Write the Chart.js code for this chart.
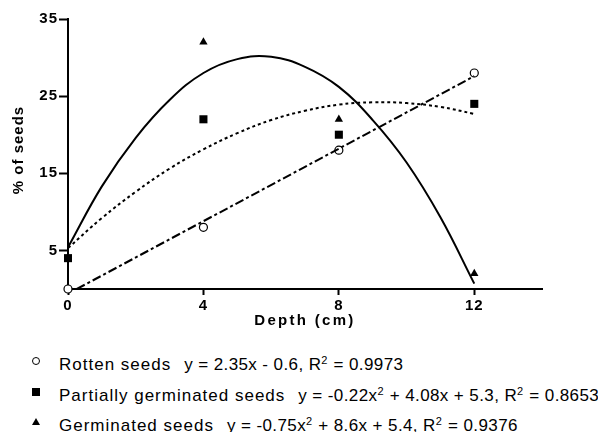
<!DOCTYPE html>
<html>
<head>
<meta charset="utf-8">
<script src="https://cdn.jsdelivr.net/npm/chart.js@4.4.1/dist/chart.umd.min.js"></script>
<style>
    body { margin: 0; background: #fff; font-family: Arial, "Liberation Sans", sans-serif; }
    #wrap { position: relative; width: 598px; height: 432px; overflow: hidden; }
    #seedChart { position: absolute; left: 0; top: 0; }
    .row { position: absolute; left: 0; height: 20px; line-height: 20px; font-size: 17px; color: #000; white-space: nowrap; }
    .mk { position: absolute; box-sizing: border-box; }
    .lab { position: absolute; left: 59px; top: 0; letter-spacing: 1px; }
    .eq { margin-left: 13px; letter-spacing: 0.4px; }
    .sup { font-size: 11px; vertical-align: 6px; letter-spacing: 0; margin-right: 1px; }
</style>
</head>
<body>
<div id="wrap">
    <canvas id="seedChart" width="598" height="340"></canvas>

    <div class="row" style="top:350px">
        <span class="mk" style="left:32px;top:7px;width:8px;height:8px;border:1.3px solid #000;border-radius:50%"></span>
        <span class="lab">Rotten seeds<span class="eq">y = 2.35x - 0.6, R<span class="sup">2</span> = 0.9973</span></span>
    </div>
    <div class="row" style="top:381px">
        <span class="mk" style="left:32px;top:7px;width:8px;height:8px;background:#000"></span>
        <span class="lab">Partially germinated seeds<span class="eq">y = -0.22x<span class="sup">2</span> + 4.08x + 5.3, R<span class="sup">2</span> = 0.8653</span></span>
    </div>
    <div class="row" style="top:411px">
        <span class="mk" style="left:32px;top:7px;width:0;height:0;border-left:4px solid transparent;border-right:4px solid transparent;border-bottom:7px solid #000"></span>
        <span class="lab">Germinated seeds<span class="eq">y = -0.75x<span class="sup">2</span> + 8.6x + 5.4, R<span class="sup">2</span> = 0.9376</span></span>
    </div>
</div>

<script>
// observed points
const depthCm = [0, 4, 8, 12];
const rottenSeeds = [0, 8, 18, 28];
const partialSeeds = [4, 22, 20, 24];
const germinatedSeeds = [null, 32, 22, 2];

// fitted curves
const fitDepth = [0, 1, 2, 3, 4, 5, 6, 7, 8, 9, 10, 11, 12];
const germinatedFit = [5.4, 13.3, 19.6, 24.5, 28.0, 29.8, 30.1, 28.8, 26.2, 21.9, 16.4, 9.3, 0.7];
const partialFit = [5.3, 9.2, 12.6, 15.6, 18.1, 20.2, 21.9, 23.1, 23.9, 24.2, 24.1, 23.6, 22.7];
const rottenFitDepth = [0.26, 12];
const rottenFit = [0, 27.6];

// axis ticks
const xTickValues = [0, 4, 8, 12];
const yTickValues = [5, 15, 25, 35];

const FONT = 'Arial, "Liberation Sans", sans-serif';

function toPoints(xs, ys) {
    return xs.map((x, i) => ({ x: x, y: ys[i] })).filter(p => p.y !== null);
}

// the original uses spaced-out text; canvas needs letterSpacing set by hand
function wrapTitle(scale, spacing, shiftY) {
    if (scale._wrapped) return;
    const orig = scale.drawTitle.bind(scale);
    scale.drawTitle = function () {
        const c = this.ctx;
        c.save();
        c.letterSpacing = spacing;
        c.translate(0, shiftY);
        orig();
        c.restore();
    };
    scale._wrapped = true;
}

const spacingPlugin = {
    id: 'spacing',
    beforeDraw: function (chart) {
        chart.ctx.letterSpacing = '1px';
        wrapTitle(chart.scales.x, '2.3px', 0);
        wrapTitle(chart.scales.y, '1px', -4);
    }
};

const ctx = document.getElementById('seedChart').getContext('2d');
new Chart(ctx, {
    type: 'scatter',
    data: {
        datasets: [
            {
                label: 'Germinated fit',
                data: toPoints(fitDepth, germinatedFit),
                showLine: true,
                borderColor: '#000',
                borderWidth: 2,
                pointRadius: 0,
                tension: 0.4,
            },
            {
                label: 'Partially germinated fit',
                data: toPoints(fitDepth, partialFit),
                showLine: true,
                borderColor: '#000',
                borderWidth: 2,
                borderDash: [3, 3],
                pointRadius: 0,
                tension: 0.4,
            },
            {
                label: 'Rotten fit',
                data: toPoints(rottenFitDepth, rottenFit),
                showLine: true,
                borderColor: '#000',
                borderWidth: 2,
                borderDash: [9, 3, 3, 3],
                pointRadius: 0,
            },
            {
                label: 'Rotten seeds',
                data: toPoints(depthCm, rottenSeeds),
                pointStyle: 'circle',
                pointRadius: 4,
                backgroundColor: '#fff',
                borderColor: '#000',
                borderWidth: 1.2,
                clip: false,
            },
            {
                label: 'Partially germinated seeds',
                data: toPoints(depthCm, partialSeeds),
                pointStyle: 'rect',
                pointRadius: 5.7,
                backgroundColor: '#000',
                borderColor: '#000',
                borderWidth: 0,
                clip: false,
            },
            {
                label: 'Germinated seeds',
                data: toPoints(depthCm, germinatedSeeds),
                pointStyle: 'triangle',
                pointRadius: 4.8,
                backgroundColor: '#000',
                borderColor: '#000',
                borderWidth: 0,
                clip: false,
            },
        ],
    },
    options: {
        responsive: false,
        animation: false,
        layout: { padding: { left: 0, right: 56, top: 19, bottom: 0 } },
        plugins: {
            legend: { display: false },
            tooltip: { enabled: false },
        },
        scales: {
            x: {
                type: 'linear',
                min: 0,
                max: 14,
                afterBuildTicks: function (scale) {
                    scale.ticks = xTickValues.map(v => ({ value: v }));
                },
                afterFit: function (scale) { scale.height = 51; },
                grid: { drawOnChartArea: false, drawTicks: true, tickLength: 6, tickWidth: 2, tickColor: '#000' },
                border: { color: '#000', width: 2 },
                ticks: { color: '#000', padding: 2, maxRotation: 0, font: { family: FONT, size: 15, weight: 'bold' } },
                title: {
                    display: true,
                    text: 'Depth (cm)',
                    color: '#000',
                    padding: { top: 0, bottom: 10 },
                    font: { family: FONT, size: 15, weight: 'bold' },
                },
            },
            y: {
                type: 'linear',
                min: 0,
                max: 35,
                afterBuildTicks: function (scale) {
                    scale.ticks = yTickValues.map(v => ({ value: v }));
                },
                afterFit: function (scale) { scale.width = 68; },
                grid: { drawOnChartArea: false, drawTicks: true, tickLength: 9, tickWidth: 2, tickColor: '#000' },
                border: { color: '#000', width: 2 },
                ticks: { color: '#000', padding: 1, font: { family: FONT, size: 15, weight: 'bold' } },
                title: {
                    display: true,
                    text: '% of seeds',
                    color: '#000',
                    padding: { top: 10, bottom: 0 },
                    font: { family: FONT, size: 15, weight: 'bold' },
                },
            },
        },
    },
    plugins: [spacingPlugin],
});
</script>
</body>
</html>
